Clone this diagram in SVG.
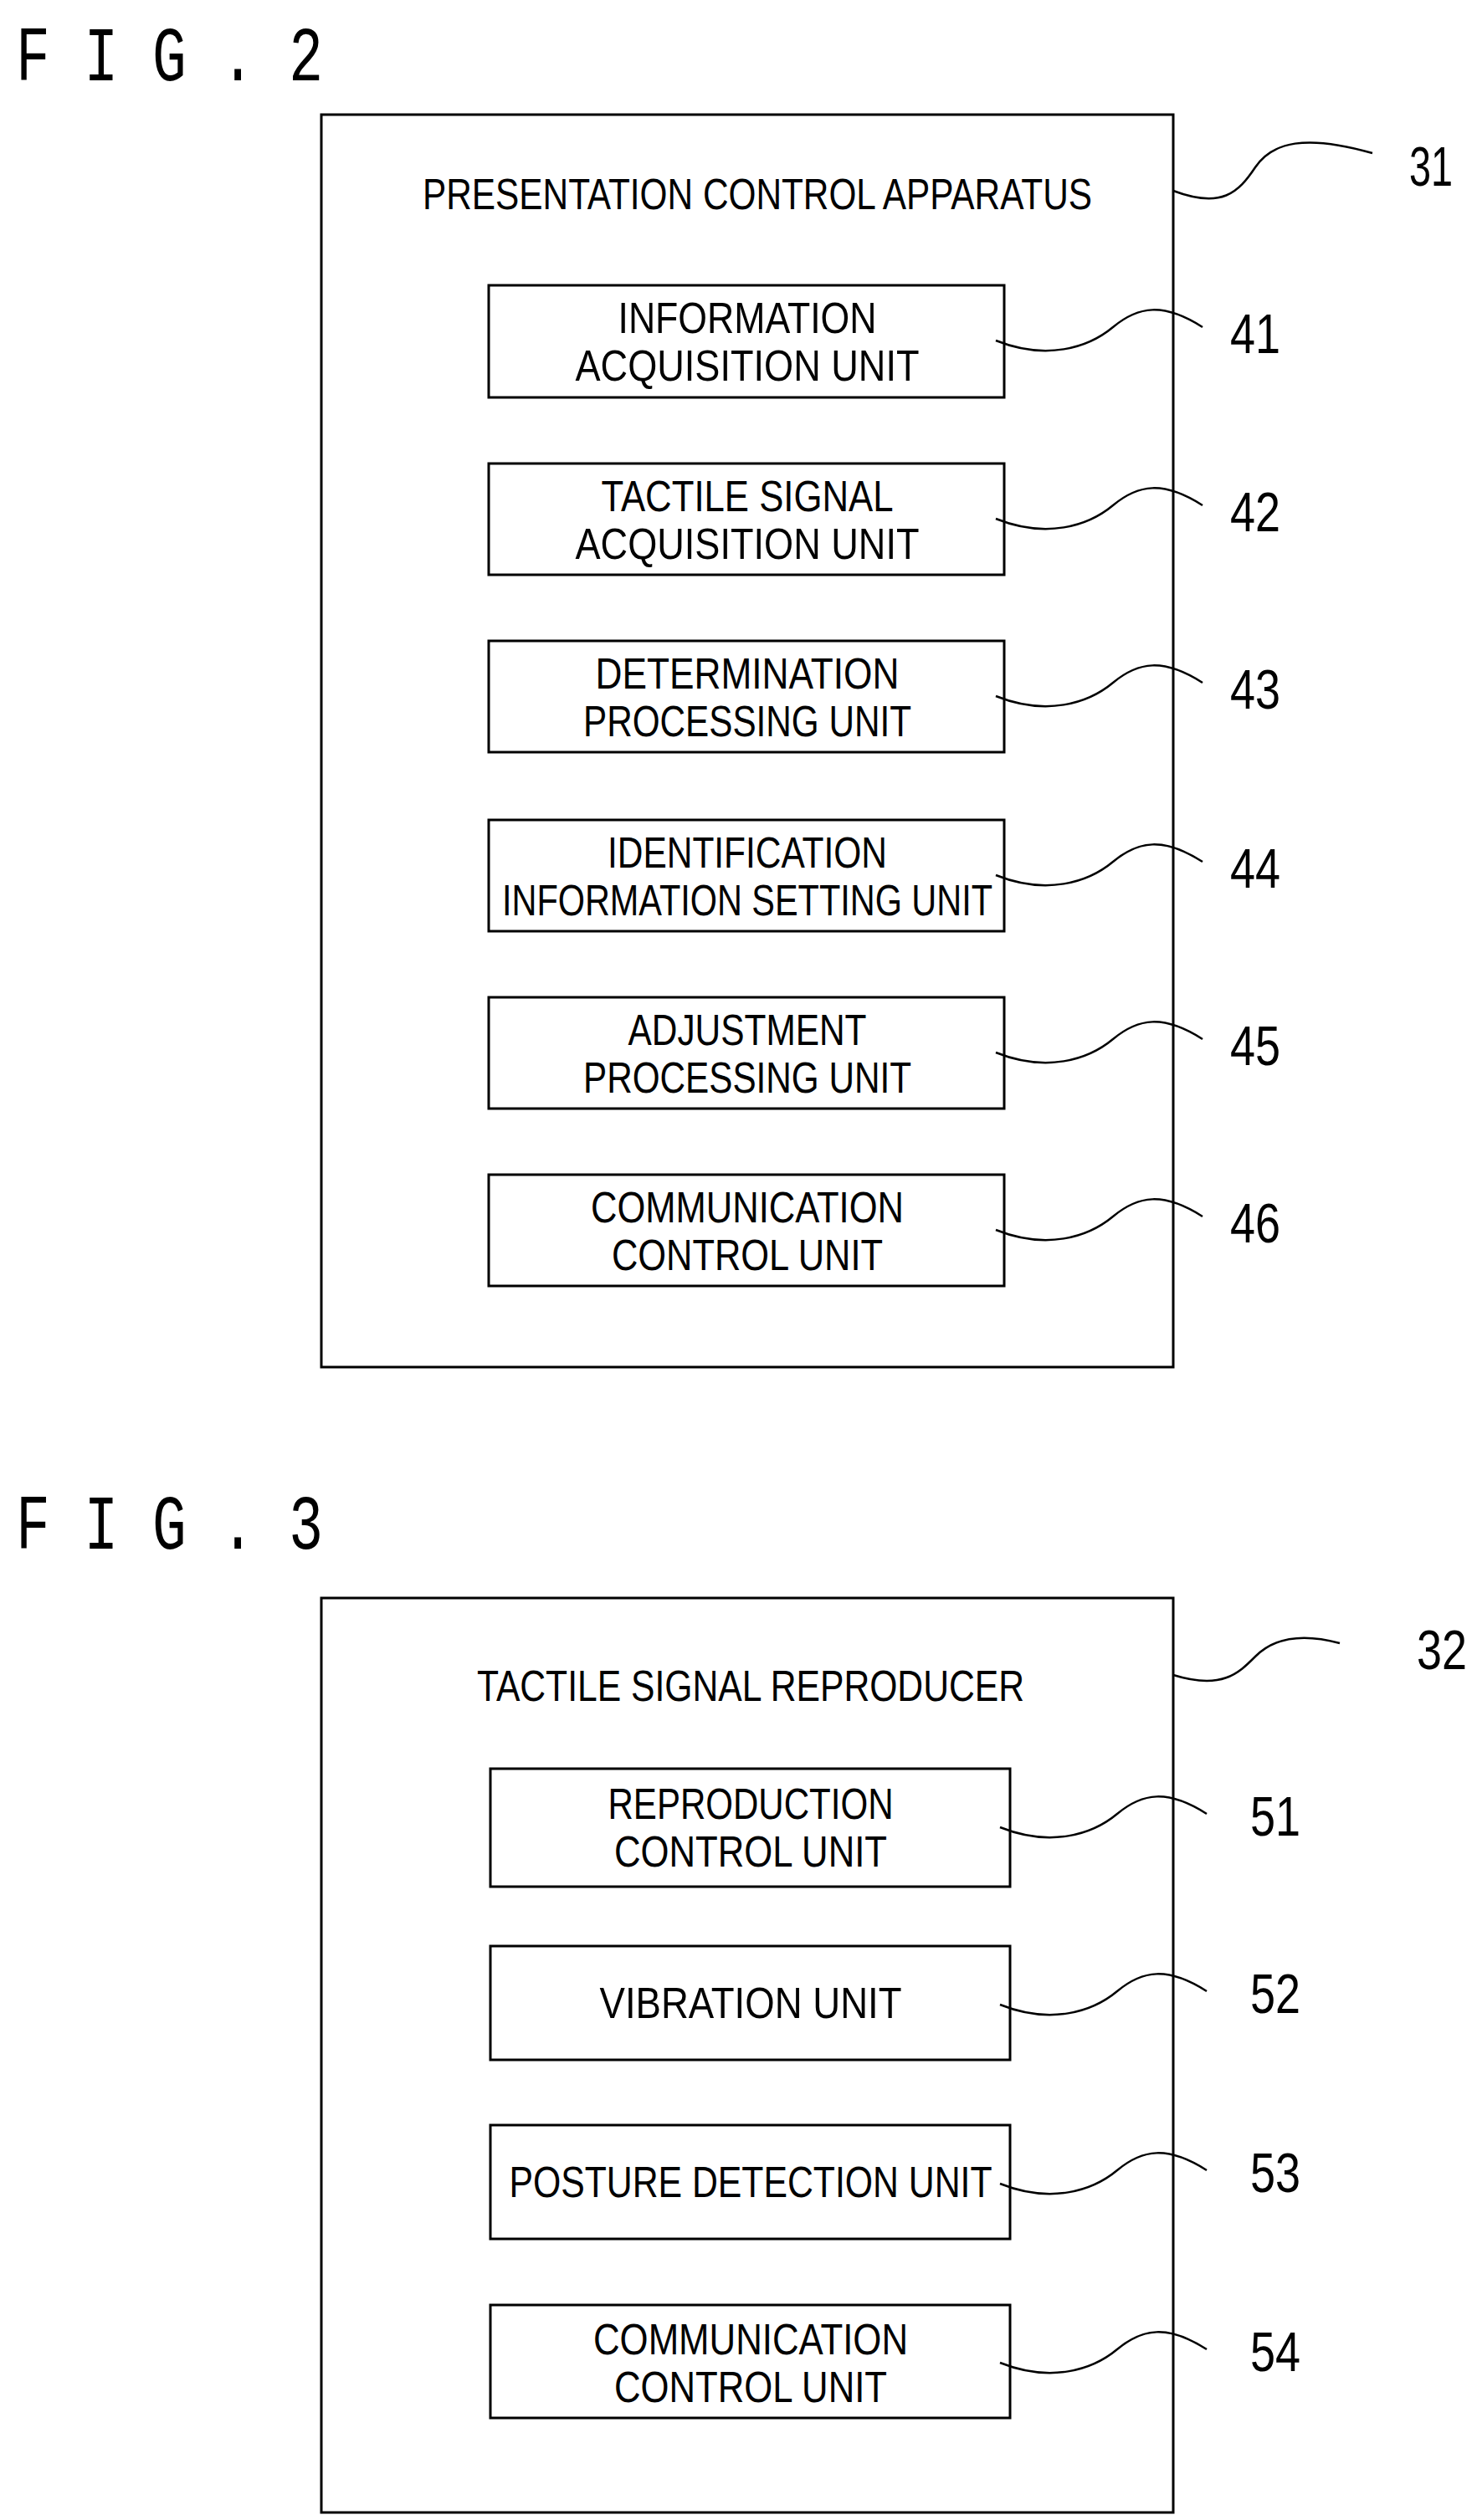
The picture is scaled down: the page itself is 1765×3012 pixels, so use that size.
<svg xmlns="http://www.w3.org/2000/svg" width="1765" height="3012" viewBox="0 0 1765 3012">
<style>
text{font-family:"Liberation Sans",Arial,sans-serif;fill:#000;font-size:52px;text-anchor:middle}
.fig{font-family:"Liberation Mono","DejaVu Sans Mono",monospace;font-size:92px;text-anchor:start}
.num{font-size:66px}
.box{fill:none;stroke:#000;stroke-width:3}
.lead{fill:none;stroke:#000;stroke-width:2.5}
</style>
<rect width="1765" height="3012" fill="#fff"/>
<text class="fig" x="19" y="96" textLength="367" lengthAdjust="spacingAndGlyphs">F I G . 2</text>
<text class="fig" x="19" y="1851" textLength="367" lengthAdjust="spacingAndGlyphs">F I G . 3</text>
<g id="n31"><rect class="box" x="384" y="137" width="1018" height="1497"/>
<text x="905" y="250" textLength="800" lengthAdjust="spacingAndGlyphs">PRESENTATION CONTROL APPARATUS</text></g>
<g id="n41"><rect class="box" x="584" y="341" width="616" height="134"/>
<text x="893" y="398" textLength="309" lengthAdjust="spacingAndGlyphs">INFORMATION</text>
<text x="893" y="455" textLength="411" lengthAdjust="spacingAndGlyphs">ACQUISITION UNIT</text></g>
<g id="n42"><rect class="box" x="584" y="554" width="616" height="133"/>
<text x="893" y="611" textLength="349" lengthAdjust="spacingAndGlyphs">TACTILE SIGNAL</text>
<text x="893" y="668" textLength="411" lengthAdjust="spacingAndGlyphs">ACQUISITION UNIT</text></g>
<g id="n43"><rect class="box" x="584" y="766" width="616" height="133"/>
<text x="893" y="823" textLength="363" lengthAdjust="spacingAndGlyphs">DETERMINATION</text>
<text x="893" y="880" textLength="392" lengthAdjust="spacingAndGlyphs">PROCESSING UNIT</text></g>
<g id="n44"><rect class="box" x="584" y="980" width="616" height="133"/>
<text x="893" y="1037" textLength="334" lengthAdjust="spacingAndGlyphs">IDENTIFICATION</text>
<text x="893" y="1094" textLength="586" lengthAdjust="spacingAndGlyphs">INFORMATION SETTING UNIT</text></g>
<g id="n45"><rect class="box" x="584" y="1192" width="616" height="133"/>
<text x="893" y="1249" textLength="285" lengthAdjust="spacingAndGlyphs">ADJUSTMENT</text>
<text x="893" y="1306" textLength="392" lengthAdjust="spacingAndGlyphs">PROCESSING UNIT</text></g>
<g id="n46"><rect class="box" x="584" y="1404" width="616" height="133"/>
<text x="893" y="1461" textLength="374" lengthAdjust="spacingAndGlyphs">COMMUNICATION</text>
<text x="893" y="1518" textLength="324" lengthAdjust="spacingAndGlyphs">CONTROL UNIT</text></g>
<g id="n32"><rect class="box" x="384" y="1910" width="1018" height="1093"/>
<text x="897" y="2033" textLength="654" lengthAdjust="spacingAndGlyphs">TACTILE SIGNAL REPRODUCER</text></g>
<g id="n51"><rect class="box" x="586" y="2114" width="621" height="141"/>
<text x="897" y="2174" textLength="341" lengthAdjust="spacingAndGlyphs">REPRODUCTION</text>
<text x="897" y="2231" textLength="326" lengthAdjust="spacingAndGlyphs">CONTROL UNIT</text></g>
<g id="n52"><rect class="box" x="586" y="2326" width="621" height="136"/>
<text x="897" y="2412" textLength="361" lengthAdjust="spacingAndGlyphs">VIBRATION UNIT</text></g>
<g id="n53"><rect class="box" x="586" y="2540" width="621" height="136"/>
<text x="897" y="2626" textLength="577" lengthAdjust="spacingAndGlyphs">POSTURE DETECTION UNIT</text></g>
<g id="n54"><rect class="box" x="586" y="2755" width="621" height="135"/>
<text x="897" y="2814" textLength="376" lengthAdjust="spacingAndGlyphs">COMMUNICATION</text>
<text x="897" y="2871" textLength="326" lengthAdjust="spacingAndGlyphs">CONTROL UNIT</text></g>
<g id="connectors">
<path class="lead" d="M1402,228 C1460,250 1480,230 1500,200 S1560,160 1640,183"/>
<path class="lead" d="M1190,407 C1250,431 1300,416 1330,391 S1390,361 1437,391"/>
<path class="lead" d="M1190,620 C1250,644 1300,629 1330,604 S1390,574 1437,604"/>
<path class="lead" d="M1190,832 C1250,856 1300,841 1330,816 S1390,786 1437,816"/>
<path class="lead" d="M1190,1046 C1250,1070 1300,1055 1330,1030 S1390,1000 1437,1030"/>
<path class="lead" d="M1190,1258 C1250,1282 1300,1267 1330,1242 S1390,1212 1437,1242"/>
<path class="lead" d="M1190,1470 C1250,1494 1300,1479 1330,1454 S1390,1424 1437,1454"/>
<path class="lead" d="M1402,2002 C1460,2020 1480,2000 1500,1980 S1550,1950 1601,1964"/>
<path class="lead" d="M1195,2184 C1255,2208 1305,2193 1335,2168 S1395,2138 1442,2168"/>
<path class="lead" d="M1195,2396 C1255,2420 1305,2405 1335,2380 S1395,2350 1442,2380"/>
<path class="lead" d="M1195,2610 C1255,2634 1305,2619 1335,2594 S1395,2564 1442,2594"/>
<path class="lead" d="M1195,2824 C1255,2848 1305,2833 1335,2808 S1395,2778 1442,2808"/>
</g>
<g id="labels">
<text class="num" x="1710" y="222" textLength="52" lengthAdjust="spacingAndGlyphs">31</text>
<text class="num" x="1500" y="422" textLength="60" lengthAdjust="spacingAndGlyphs">41</text>
<text class="num" x="1500" y="635" textLength="60" lengthAdjust="spacingAndGlyphs">42</text>
<text class="num" x="1500" y="847" textLength="60" lengthAdjust="spacingAndGlyphs">43</text>
<text class="num" x="1500" y="1061" textLength="60" lengthAdjust="spacingAndGlyphs">44</text>
<text class="num" x="1500" y="1273" textLength="60" lengthAdjust="spacingAndGlyphs">45</text>
<text class="num" x="1500" y="1485" textLength="60" lengthAdjust="spacingAndGlyphs">46</text>
<text class="num" x="1723" y="1995" textLength="60" lengthAdjust="spacingAndGlyphs">32</text>
<text class="num" x="1524" y="2194" textLength="60" lengthAdjust="spacingAndGlyphs">51</text>
<text class="num" x="1524" y="2406" textLength="60" lengthAdjust="spacingAndGlyphs">52</text>
<text class="num" x="1524" y="2620" textLength="60" lengthAdjust="spacingAndGlyphs">53</text>
<text class="num" x="1524" y="2834" textLength="60" lengthAdjust="spacingAndGlyphs">54</text>
</g>
</svg>
